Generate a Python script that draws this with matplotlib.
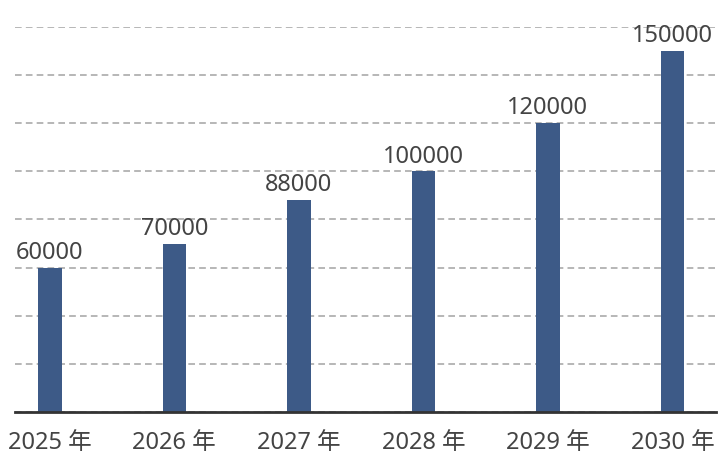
import numpy as np
import matplotlib.pyplot as plt

plt.rcParams['font.family'] = ['Noto Sans', 'Noto Sans CJK SC', 'DejaVu Sans']

years = ['2025 年', '2026 年', '2027 年', '2028 年', '2029 年', '2030 年']
values = [60000, 70000, 88000, 100000, 120000, 150000]

fig = plt.figure(figsize=(7.23, 4.65), dpi=100)
ax = fig.add_axes([15/723, 1 - 412/465, 701/723, (412 - 27)/465])

x = np.arange(len(years))
ax.bar(x, values, width=0.19, color='#3d5a87', zorder=3)

for xi, v in zip(x, values):
    ax.annotate(str(v), (xi, v), xytext=(0, 2), textcoords='offset points',
                ha='center', va='bottom', fontsize=17, color='#444444',
                fontweight='light', zorder=4)

ax.set_xlim(-0.28, 5.35)
ax.set_ylim(0, 160000)
ax.set_yticks(np.arange(0, 160001, 20000))
ax.yaxis.grid(True, linestyle=(0, (4, 2.5)), color='#aaaaaa', linewidth=1.2)
ax.set_axisbelow(True)

ax.set_xticks(x)
ax.set_xticklabels(years, fontsize=17, color='#444444', fontweight='light')
ax.tick_params(axis='x', length=0, pad=14)
ax.tick_params(axis='y', length=0, labelleft=False)

for s in ['top', 'right', 'left']:
    ax.spines[s].set_visible(False)
ax.spines['bottom'].set_color('#333333')
ax.spines['bottom'].set_linewidth(2)
ax.spines['bottom'].set_zorder(5)

fig.savefig('out.png', dpi=100)
